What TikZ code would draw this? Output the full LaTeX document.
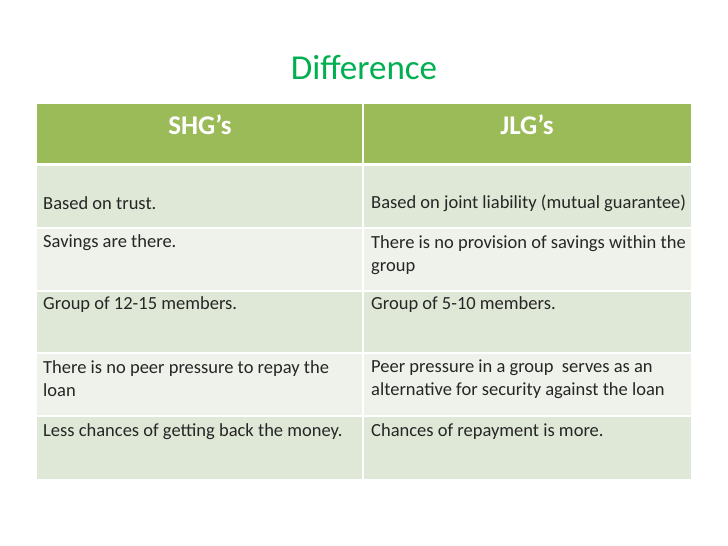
\documentclass[tikz,border=0pt]{standalone}
\usepackage{fontspec}
\setmainfont{Carlito}
\definecolor{hdr}{HTML}{9BBB59}
\definecolor{rowA}{HTML}{DFE8D6}
\definecolor{rowB}{HTML}{EEF2EA}
\definecolor{ttl}{HTML}{00B050}
\begin{document}
\begin{tikzpicture}[x=1pt,y=-1pt,
  cell/.style={anchor=west,inner sep=0pt,font=\fontsize{18.5}{23}\selectfont,text=black!85,align=left},
  head/.style={inner sep=0pt,font=\fontsize{27}{30}\selectfont\bfseries,text=white}]
\useasboundingbox[fill=white] (0,0) rectangle (728,546);
\fill[hdr] (37,104) rectangle (691,163);
\fill[rowA] (37,166) rectangle (691,228);
\fill[rowB] (37,228) rectangle (691,291);
\fill[rowA] (37,291) rectangle (691,353);
\fill[rowB] (37,353) rectangle (691,416);
\fill[rowA] (37,416) rectangle (691,479);
\foreach \y in {228,291,353,416} \draw[white,line width=1.2pt] (37,\y) -- (691,\y);
\draw[white,line width=2pt] (363,104) -- (363,479);
\node[font=\fontsize{35}{40}\selectfont,text=ttl] (title) at (364,68) {Difference};
\node[head] (h1) at (200,125) {SHG’s};
\node[head] (h2) at (527,125) {JLG’s};
\node[cell] (a1) at (43,203) {Based on trust.};
\node[cell] (b1) at (371,203) {Based on joint liability (mutual guarantee)};
\node[cell] (a2) at (43,243) {Savings are there.};
\node[cell,anchor=north west] (b2) at (371,235) {There is no provision of savings within the\\group};
\node[cell] (a3) at (43,305) {Group of 12-15 members.};
\node[cell] (b3) at (371,305) {Group of 5-10 members.};
\node[cell,anchor=north west] (a4) at (43,360) {There is no peer pressure to repay the\\loan};
\node[cell,anchor=north west] (b4) at (371,360) {Peer pressure in a group\ \ serves as an\\alternative for security against the loan};
\node[cell] (a5) at (43,432) {Less chances of getting back the money.};
\node[cell] (b5) at (371,432) {Chances of repayment is more.};
\end{tikzpicture}
\end{document}
